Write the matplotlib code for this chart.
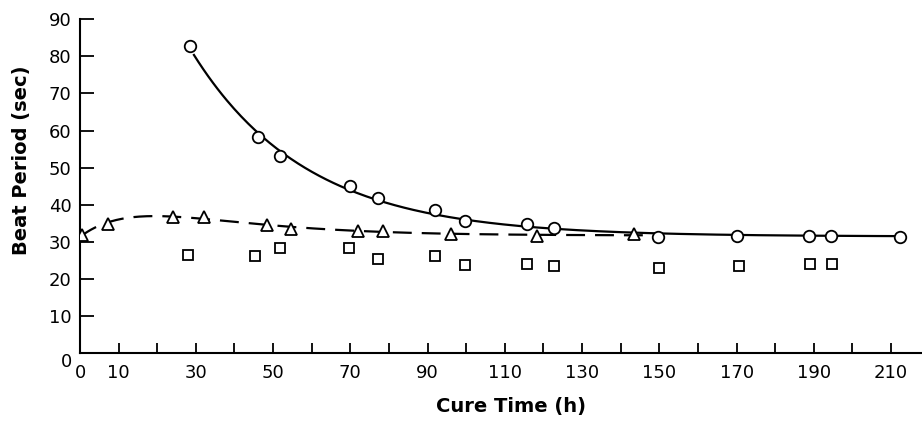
import numpy as np
import matplotlib
matplotlib.use("Agg")
import matplotlib.pyplot as plt

# --- data ---
circle_x = [28.5, 46.0, 51.8, 69.9, 77.2, 91.9, 99.7, 115.7, 122.7, 149.6, 170.2, 188.7, 194.5, 212.4]
circle_y = [82.8, 58.3, 53.1, 45.0, 41.8, 38.5, 35.6, 34.9, 33.8, 31.3, 31.5, 31.5, 31.5, 31.3]

tri_x = [0.4, 7.3, 24.0, 32.2, 48.3, 54.6, 72.1, 78.5, 96.0, 118.2, 143.5]
tri_y = [31.8, 34.9, 36.8, 36.8, 34.4, 33.5, 32.9, 32.9, 32.0, 31.6, 32.2]

sq_x = [28.0, 45.3, 51.8, 69.7, 77.1, 91.9, 99.7, 115.8, 122.8, 149.9, 170.5, 189.0, 194.6]
sq_y = [26.4, 26.2, 28.2, 28.2, 25.3, 26.2, 23.7, 24.1, 23.4, 23.0, 23.4, 23.9, 24.1]

xtick_vals = list(range(0, 211, 10))
xtick_labels = ["" if v == 20 or (v > 10 and v % 20 == 0) else str(v) for v in xtick_vals]
ytick_vals = list(range(0, 91, 10))
ytick_labels = [str(v) for v in ytick_vals]


def fit_exp(x, y, basis_fn, ks):
    x = np.asarray(x, float); y = np.asarray(y, float)
    best = None
    for k in ks:
        A = basis_fn(x, k)
        coef, res, *_ = np.linalg.lstsq(A, y, rcond=None)
        err = np.sum((A @ coef - y) ** 2)
        if best is None or err < best[0]:
            best = (err, k, coef)
    return best[1], best[2]


# solid fit: c + b*exp(-k x)
b1 = lambda x, k: np.column_stack([np.ones_like(x), np.exp(-k * x)])
k1, c1 = fit_exp(circle_x, circle_y, b1, np.linspace(0.005, 0.1, 400))
# dashed fit: c + (a + b x) exp(-k x)
b2 = lambda x, k: np.column_stack([np.ones_like(x), np.exp(-k * x), x * np.exp(-k * x)])
k2, c2 = fit_exp(tri_x, tri_y, b2, np.linspace(0.01, 0.2, 400))

fig = plt.figure(figsize=(9.22, 4.23), dpi=100)
ax = fig.add_axes([80 / 922, 70 / 423, (922 - 80) / 922, (353 - 19.3) / 423])
ax.set_xlim(0, 218)
ax.set_ylim(0, 90)

xs = np.linspace(circle_x[0] + 1.0, circle_x[-1], 300)
ax.plot(xs, b1(xs, k1) @ c1, color="black", lw=1.6, zorder=2)
xd = np.linspace(0, 148, 300)
ax.plot(xd, b2(xd, k2) @ c2, color="black", lw=1.6, dashes=(8.5, 4.5), zorder=2)

mk = dict(linestyle="none", markerfacecolor="white", markeredgecolor="black",
          markeredgewidth=1.3, zorder=3)
ax.plot(circle_x, circle_y, marker="o", markersize=8.3, **mk)
ax.plot(tri_x, tri_y, marker="^", markersize=8.8, **mk)
ax.plot(sq_x, sq_y, marker="s", markersize=7.5, **mk)

for s in ["top", "right"]:
    ax.spines[s].set_visible(False)
for s in ["left", "bottom"]:
    ax.spines[s].set_linewidth(1.5)

ax.set_xticks(xtick_vals)
ax.set_xticklabels(xtick_labels)
ax.set_yticks(ytick_vals)
ax.set_yticklabels(ytick_labels)
ax.tick_params(axis="x", direction="in", length=7, width=1.3, pad=8, labelsize=13)
ax.tick_params(axis="y", direction="in", length=10, width=1.3, pad=6, labelsize=13)
# nudge "0" labels like the reference
ax.get_yticklabels()[0].set_verticalalignment("top")

fig.text(22 / 922, 1 - 160 / 423, "Beat Period (sec)", rotation=90, ha="center",
         va="center", fontsize=14, fontweight="bold")
fig.text(511 / 922, 1 - 406 / 423, "Cure Time (h)", ha="center", va="center",
         fontsize=14, fontweight="bold")

fig.savefig("out.png", dpi=100)
